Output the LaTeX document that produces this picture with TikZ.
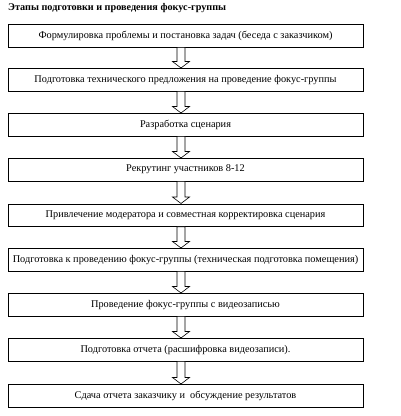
\documentclass[tikz,border=0pt]{standalone}
\usepackage{fontspec}
\setmainfont{Liberation Serif}
\usetikzlibrary{calc}
\tikzset{
  x=1pt,y=1pt,
  stagebox/.style={draw=black,line width=0.8pt,fill=white,minimum width=355pt,minimum height=22.5pt,inner sep=0pt,font=\fontsize{10.3}{12}\selectfont,anchor=north},
  hollowarrow/.style={draw=black,line width=0.6pt,fill=white}
}
\begin{document}
\begin{tikzpicture}
\useasboundingbox (0,0) rectangle (400,-416);
\node[anchor=west,inner sep=0pt,font=\bfseries\fontsize{10.2}{12}\selectfont] (title) at (8,-8) {Этапы подготовки и проведения фокус-группы};
\node[stagebox] (s1) at (185.5,-24) {Формулировка проблемы и постановка задач (беседа с заказчиком)};
\node[stagebox] (s2) at (185.5,-68) {Подготовка технического предложения на проведение фокус-группы};
\node[stagebox] (s3) at (185.5,-113) {Разработка сценария};
\node[stagebox] (s4) at (185.5,-158) {Рекрутинг участников 8-12};
\node[stagebox] (s5) at (185.5,-203.5) {Привлечение модератора и совместная корректировка сценария};
\node[stagebox] (s6) at (185.5,-248) {Подготовка к проведению фокус-группы (техническая подготовка помещения)};
\node[stagebox] (s7) at (185.5,-293) {Проведение фокус-группы с видеозаписью};
\node[stagebox] (s8) at (185.5,-338) {Подготовка отчета (расшифровка видеозаписи).};
\node[stagebox] (s9) at (185.5,-384) {Сдача отчета заказчику и \ обсуждение результатов};
\foreach \a/\b in {s1/s2,s2/s3,s3/s4,s4/s5,s5/s6,s6/s7,s7/s8,s8/s9}{
  \draw[hollowarrow]
    ($(\a.south)+(-8.5,0)$) --
    ($(\b.north)+(-8.5,6.5)$) --
    ($(\b.north)+(-13,6.5)$) --
    ($(\b.north)+(-4.5,0)$) --
    ($(\b.north)+(4,6.5)$) --
    ($(\b.north)+(-0.5,6.5)$) --
    ($(\a.south)+(-0.5,0)$) -- cycle;
}
\end{tikzpicture}
\end{document}
